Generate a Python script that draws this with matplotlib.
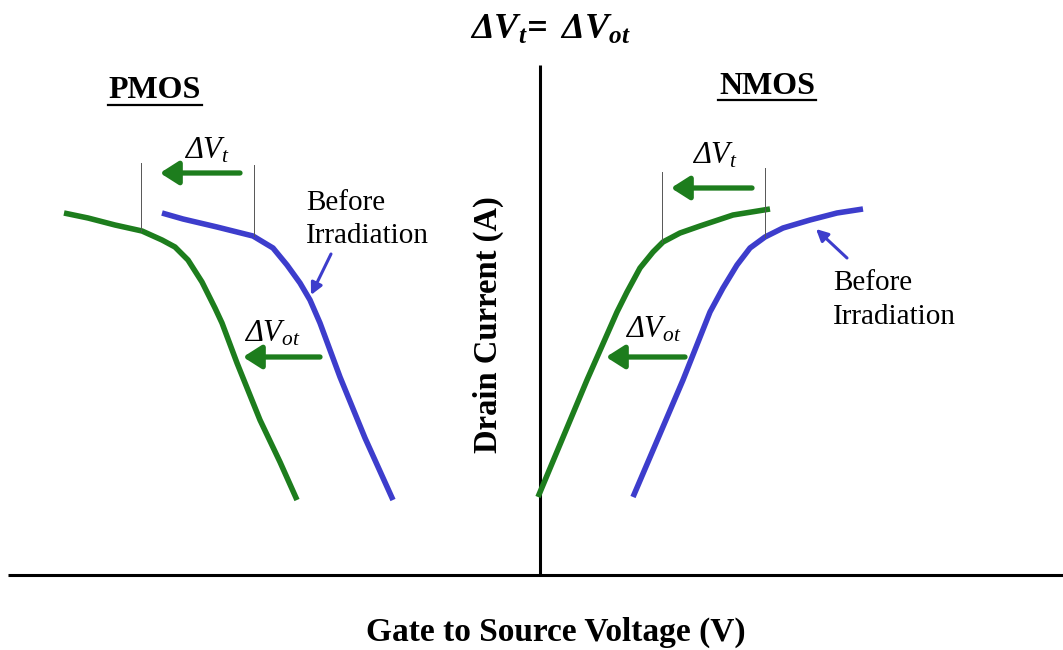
import numpy as np
import matplotlib.pyplot as plt

plt.rcParams['font.family'] = ['Liberation Serif', 'DejaVu Serif']
plt.rcParams['mathtext.fontset'] = 'custom'
# italic everywhere in math so the Delta leans like the V
plt.rcParams['mathtext.rm'] = 'Liberation Serif:italic'
plt.rcParams['mathtext.it'] = 'Liberation Serif:italic'
plt.rcParams['mathtext.bf'] = 'Liberation Serif:bold:italic'

GREEN = '#1d7d1d'
BLUE = '#3d3dcc'

# sketch coordinates: x grows right, y grows downward (0 at top)
pmos_after_x = [64, 88, 115, 142, 162, 175, 188, 202, 215, 222, 237, 260, 280, 297]
pmos_after_y = [213, 218, 225, 231, 240, 247, 260, 282, 308, 323, 363, 420, 462, 500]
pmos_before_x = [162, 183, 217, 253, 273, 287, 300, 310, 320, 340, 365, 393]
pmos_before_y = [213, 219, 227, 236, 248, 265, 283, 300, 323, 377, 438, 500]

nmos_after_x = [538, 587, 617, 627, 640, 653, 663, 680, 700, 733, 770]
nmos_after_y = [497, 380, 312, 292, 268, 252, 242, 233, 226, 215, 209]
nmos_before_x = [633, 683, 710, 723, 737, 750, 765, 783, 810, 837, 863]
nmos_before_y = [497, 380, 312, 288, 265, 248, 237, 228, 220, 213, 209]

# threshold markers (x, top, bottom)
pmos_marks = [(141, 163, 231), (254, 165, 236)]
nmos_marks = [(662, 172, 242), (765, 168, 237)]

fig = plt.figure(figsize=(10.63, 6.5), dpi=100)
ax = fig.add_axes([0, 0, 1, 1])
ax.set_xlim(0, 1063)
ax.set_ylim(650, 0)
ax.axis('off')

# axes of the sketch
ax.plot([8, 1063], [575, 575], color='black', lw=2.2, solid_capstyle='butt')
ax.plot([540, 540], [65, 575], color='black', lw=2.2, solid_capstyle='butt')

for xs, ys, c in [(pmos_after_x, pmos_after_y, GREEN),
                  (pmos_before_x, pmos_before_y, BLUE),
                  (nmos_after_x, nmos_after_y, GREEN),
                  (nmos_before_x, nmos_before_y, BLUE)]:
    ax.plot(xs, ys, color=c, lw=4.0, solid_capstyle='butt', solid_joinstyle='round')

for x, y0, y1 in pmos_marks + nmos_marks:
    ax.plot([x, x], [y0, y1], color='#555555', lw=0.7)


def shift_arrow(tail, head):
    ax.annotate('', xy=head, xytext=tail,
                arrowprops=dict(arrowstyle='-|>,head_length=1.1,head_width=0.7',
                                color=GREEN, lw=3.8, shrinkA=0, shrinkB=0))


def pointer(tail, head):
    ax.annotate('', xy=head, xytext=tail,
                arrowprops=dict(arrowstyle='-|>,head_length=0.7,head_width=0.35',
                                color=BLUE, lw=2.2, shrinkA=0, shrinkB=0))


shift_arrow((240, 173), (160, 173))
shift_arrow((320, 357), (243, 357))
shift_arrow((752, 188), (671, 188))
shift_arrow((685, 357), (606, 357))

pointer((331, 254), (311, 295))
pointer((847, 258), (816, 229))

lab = dict(fontsize=22, ha='center', va='center')
ax.text(207, 151, r'$\Delta V_t$', **lab)
ax.text(272, 334, r'$\Delta V_{ot}$', **lab)
ax.text(715, 156, r'$\Delta V_t$', **lab)
ax.text(653, 330, r'$\Delta V_{ot}$', **lab)

note = dict(fontsize=21, ha='left', va='baseline')
ax.text(306, 210, 'Before', **note)
ax.text(306, 243, 'Irradiation', **note)
ax.text(833, 290, 'Before', **note)
ax.text(833, 324, 'Irradiation', **note)

ax.text(550, 30, r'$\mathbf{\Delta V_t\!=\ \Delta V_{ot}}$', fontsize=26,
        ha='center', va='center')

heads = [ax.text(155, 91, 'PMOS', fontsize=23, fontweight='bold', ha='center', va='center'),
         ax.text(767, 86, 'NMOS', fontsize=23, fontweight='bold', ha='center', va='center')]

ax.text(488, 325, 'Drain Current (A)', fontsize=23.5, fontweight='bold',
        rotation=90, ha='center', va='center')
ax.text(556, 632, 'Gate to Source Voltage (V)', fontsize=24, fontweight='bold',
        ha='center', va='center')

# underline the device headings
fig.canvas.draw()
inv = ax.transData.inverted()
for t in heads:
    bb = t.get_window_extent()
    (x0, y0), (x1, _) = inv.transform([(bb.x0, bb.y0), (bb.x1, bb.y1)])
    ax.plot([x0 - 1, x1 + 1], [y0 - 1, y0 - 1], color='black', lw=1.6)

fig.savefig('out.png', dpi=100)
